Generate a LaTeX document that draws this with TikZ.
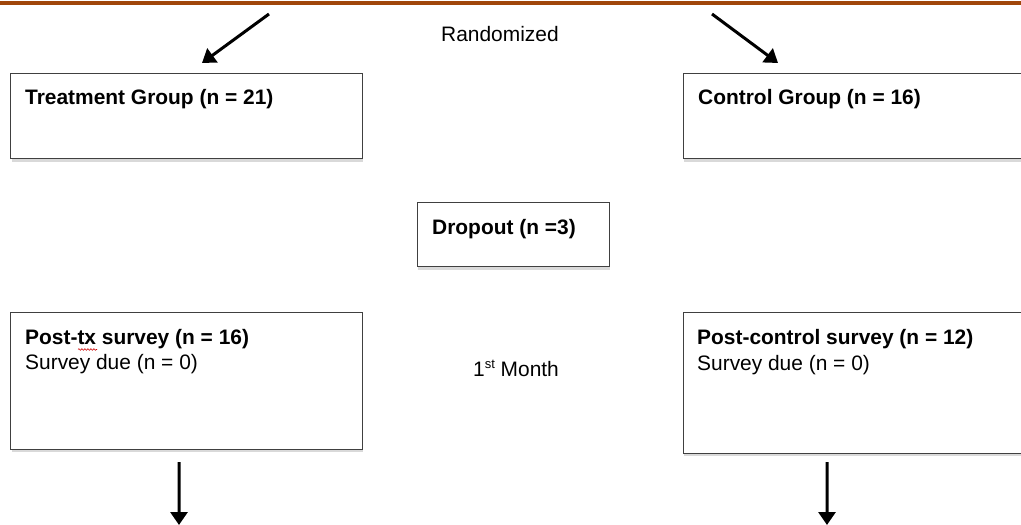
\documentclass[tikz,border=0pt]{standalone}
\usepackage{fontspec}
\setmainfont{Liberation Sans}
\usetikzlibrary{arrows.meta,decorations.pathmorphing}
\definecolor{topbar}{RGB}{160,70,10}
\tikzset{
  flowbox/.style={draw=black!75,line width=1bp,fill=white,inner sep=0pt,outer sep=0pt},
  boxshadow/.style={fill=black!15,draw=none},
  flowarrow/.style={line width=3bp,-{Triangle[length=13bp,width=17bp]}},
  boldtxt/.style={anchor=base west,inner sep=0pt,font=\fontsize{21}{25}\selectfont\bfseries},
  plaintxt/.style={anchor=base west,inner sep=0pt,font=\fontsize{21}{25}\selectfont},
  squiggle/.style={red!80!black,line width=0.6bp,decorate,
    decoration={snake,amplitude=0.8bp,segment length=3bp}},
}
\begin{document}
\begin{tikzpicture}[x=1bp,y=-1bp]
\useasboundingbox (0,0) rectangle (1021,525);
\fill[white] (0,0) rectangle (1021,525);
% top bar
\fill[topbar] (0,1) rectangle (1021,5);
% shadows
\fill[boxshadow] (12,76) rectangle (363,162);
\fill[boxshadow] (684,76) rectangle (1021,162);
\fill[boxshadow] (418,205) rectangle (610,270);
\fill[boxshadow] (12,315) rectangle (363,452);
\fill[boxshadow] (684,315) rectangle (1021,456);
% boxes
\node[flowbox,minimum width=351bp,minimum height=85bp] (tg) at (186.5,116.5) {};
\node[flowbox,minimum width=342bp,minimum height=85bp] (cg) at (854,116.5) {};
\node[flowbox,minimum width=192bp,minimum height=64bp] (do) at (513,235) {};
\node[flowbox,minimum width=351bp,minimum height=136bp] (pt) at (186.5,381) {};
\node[flowbox,minimum width=342bp,minimum height=140bp] (pc) at (854,383) {};
% free arrow ends
\coordinate (tgtop) at (202,63);
\coordinate (cgtop) at (778,63);
\coordinate (lstart) at (269,14);
\coordinate (rstart) at (712,14);
\coordinate (lend) at (179,525);
\coordinate (rend) at (827,525);
% texts
\node[plaintxt] (rand) at (441,42) {Randomized};
\node[boldtxt] (tgt) at (25,105) {Treatment Group (n = 21)};
\node[boldtxt] (cgt) at (698,105) {Control Group (n = 16)};
\node[boldtxt] (dot) at (432,235) {Dropout (n =3)};
\node[boldtxt] (ptt) at (25,345) {Post-tx survey (n = 16)};
\node[plaintxt] (ptd) at (25,370) {Survey due (n = 0)};
\node[boldtxt] (pct) at (697,345) {Post-control survey (n = 12)};
\node[plaintxt] (pcd) at (697,371) {Survey due (n = 0)};
\node[plaintxt] (month) at (473,377) {1\raisebox{0.4em}{\fontsize{13}{15}\selectfont st} Month};
% spell-check squiggle
\coordinate (sqa) at (78,349.5);
\coordinate (sqb) at (97,349.5);
\draw[squiggle] (sqa) -- (sqb);
% arrows
\draw[flowarrow] (lstart) -- (tgtop);
\draw[flowarrow] (rstart) -- (cgtop);
\draw[flowarrow] ([xshift=-7.5bp,yshift=-13bp]pt.south) -- (lend);
\draw[flowarrow] ([xshift=-27bp,yshift=-9bp]pc.south) -- (rend);
\end{tikzpicture}
\end{document}
